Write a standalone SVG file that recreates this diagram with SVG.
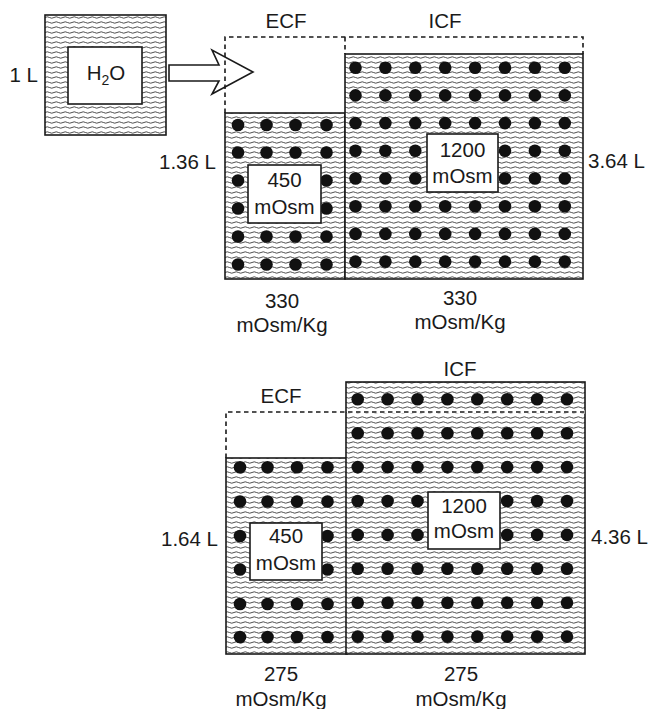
<svg xmlns="http://www.w3.org/2000/svg" xmlns:xlink="http://www.w3.org/1999/xlink" width="649" height="709" viewBox="0 0 649 709">
<style>
  text { font-family: "Liberation Sans", Arial, sans-serif; font-size: 20.5px; fill: #1a1a1a; }
  .mid { text-anchor: middle; }
  .end { text-anchor: end; }
  .fluid { fill: url(#wave); stroke: #1a1a1a; stroke-width: 1.6; }
  .box { fill: #fff; stroke: #1a1a1a; stroke-width: 1.6; }
  .dash { fill: none; stroke: #1a1a1a; stroke-width: 1.6; stroke-dasharray: 4.5 3.5; }
  .dot { fill: #111; }
</style>
<defs>
  <pattern id="wave" patternUnits="userSpaceOnUse" width="9" height="5">
    <rect width="9" height="5" fill="#fff"/>
    <path d="M0,2.5 q2.25,-1.4 4.5,0 t4.5,0" fill="none" stroke="#222" stroke-width="0.8"/>
  </pattern>
  <g id="rowEcfTop">
    <circle class="dot" cx="238" cy="0" r="6.3"/><circle class="dot" cx="266.5" cy="0" r="6.3"/><circle class="dot" cx="295.5" cy="0" r="6.3"/><circle class="dot" cx="326.5" cy="0" r="6.3"/>
  </g>
  <g id="rowIcfTop">
    <circle class="dot" cx="355.5" cy="0" r="6.3"/><circle class="dot" cx="385.4" cy="0" r="6.3"/><circle class="dot" cx="415.3" cy="0" r="6.3"/><circle class="dot" cx="445.2" cy="0" r="6.3"/><circle class="dot" cx="475.1" cy="0" r="6.3"/><circle class="dot" cx="505" cy="0" r="6.3"/><circle class="dot" cx="534.9" cy="0" r="6.3"/><circle class="dot" cx="564.8" cy="0" r="6.3"/>
  </g>
  <g id="rowEcfBot">
    <circle class="dot" cx="240" cy="0" r="6.3"/><circle class="dot" cx="267.5" cy="0" r="6.3"/><circle class="dot" cx="297" cy="0" r="6.3"/><circle class="dot" cx="327.5" cy="0" r="6.3"/>
  </g>
  <g id="rowIcfBot">
    <circle class="dot" cx="357.7" cy="0" r="6.3"/><circle class="dot" cx="387.6" cy="0" r="6.3"/><circle class="dot" cx="417.5" cy="0" r="6.3"/><circle class="dot" cx="447.4" cy="0" r="6.3"/><circle class="dot" cx="477.3" cy="0" r="6.3"/><circle class="dot" cx="507.2" cy="0" r="6.3"/><circle class="dot" cx="537.1" cy="0" r="6.3"/><circle class="dot" cx="567" cy="0" r="6.3"/>
  </g>
</defs>
<rect width="649" height="709" fill="#fff"/>

<!-- Water added -->
<g id="water">
  <rect class="fluid" x="45" y="15" width="121" height="120"/>
  <rect class="box" x="68" y="47" width="74" height="57"/>
  <text x="106" y="80" class="mid">H<tspan font-size="14" dy="5">2</tspan><tspan dy="-5">O</tspan></text>
  <text x="38" y="82" class="end">1 L</text>
</g>

<g id="connectors">
  <polygon class="box" points="169,65 219,65 212,50 253,72 212,94 219,81 169,81"/>
</g>

<!-- Top state -->
<g id="top-ecf">
  <rect class="fluid" x="225" y="113" width="120" height="166"/>
  <use xlink:href="#rowEcfTop" y="125"/>
  <use xlink:href="#rowEcfTop" y="152.5"/>
  <use xlink:href="#rowEcfTop" y="180.5"/>
  <use xlink:href="#rowEcfTop" y="208.5"/>
  <use xlink:href="#rowEcfTop" y="236.5"/>
  <use xlink:href="#rowEcfTop" y="264.5"/>
  <rect class="box" x="248" y="165" width="73" height="58"/>
  <text x="284.5" y="187" class="mid">450</text>
  <text x="284.5" y="214" class="mid">mOsm</text>
  <text x="216" y="169" class="end">1.36 L</text>
  <text x="282" y="308" class="mid">330</text>
  <text x="282" y="332" class="mid">mOsm/Kg</text>
  <text x="286" y="28" class="mid">ECF</text>
</g>
<g id="top-icf">
  <rect class="fluid" x="345" y="54" width="238" height="225"/>
  <use xlink:href="#rowIcfTop" y="67.7"/>
  <use xlink:href="#rowIcfTop" y="95.4"/>
  <use xlink:href="#rowIcfTop" y="123.1"/>
  <use xlink:href="#rowIcfTop" y="150.8"/>
  <use xlink:href="#rowIcfTop" y="178.5"/>
  <use xlink:href="#rowIcfTop" y="206.2"/>
  <use xlink:href="#rowIcfTop" y="233.9"/>
  <use xlink:href="#rowIcfTop" y="261.6"/>
  <rect class="box" x="427" y="134" width="71" height="58"/>
  <text x="462.5" y="157" class="mid">1200</text>
  <text x="462.5" y="183" class="mid">mOsm</text>
  <text x="588" y="168">3.64 L</text>
  <text x="460" y="305" class="mid">330</text>
  <text x="460" y="329" class="mid">mOsm/Kg</text>
  <text x="445" y="28" class="mid">ICF</text>
</g>
<g id="top-outline">
  <path class="dash" d="M225,113 V37 H583 V54 M345,37 V54"/>
</g>

<!-- Bottom state -->
<g id="bottom-ecf">
  <rect class="fluid" x="226" y="458" width="121" height="196"/>
  <use xlink:href="#rowEcfBot" y="467.3"/>
  <use xlink:href="#rowEcfBot" y="501.5"/>
  <use xlink:href="#rowEcfBot" y="536"/>
  <use xlink:href="#rowEcfBot" y="569.5"/>
  <use xlink:href="#rowEcfBot" y="604"/>
  <use xlink:href="#rowEcfBot" y="637"/>
  <rect class="box" x="250" y="523" width="72" height="57"/>
  <text x="286" y="543" class="mid">450</text>
  <text x="286" y="570" class="mid">mOsm</text>
  <text x="218" y="546" class="end">1.64 L</text>
  <text x="281" y="681" class="mid">275</text>
  <text x="281" y="706" class="mid">mOsm/Kg</text>
  <text x="281" y="403" class="mid">ECF</text>
</g>
<g id="bottom-icf">
  <rect class="fluid" x="346" y="382" width="239" height="272"/>
  <use xlink:href="#rowIcfBot" y="399.3"/>
  <use xlink:href="#rowIcfBot" y="433.2"/>
  <use xlink:href="#rowIcfBot" y="467.1"/>
  <use xlink:href="#rowIcfBot" y="501"/>
  <use xlink:href="#rowIcfBot" y="534.9"/>
  <use xlink:href="#rowIcfBot" y="568.8"/>
  <use xlink:href="#rowIcfBot" y="602.7"/>
  <use xlink:href="#rowIcfBot" y="636.6"/>
  <rect class="box" x="428" y="492" width="72" height="57"/>
  <text x="464" y="513" class="mid">1200</text>
  <text x="464" y="538" class="mid">mOsm</text>
  <text x="591" y="544">4.36 L</text>
  <text x="461" y="681" class="mid">275</text>
  <text x="461" y="706" class="mid">mOsm/Kg</text>
  <text x="460" y="376" class="mid">ICF</text>
</g>
<g id="bottom-outline">
  <line x1="347" y1="412" x2="585" y2="412" stroke="#fff" stroke-width="3"/>
  <path class="dash" d="M226,458 V412 H585"/>
</g>
</svg>
